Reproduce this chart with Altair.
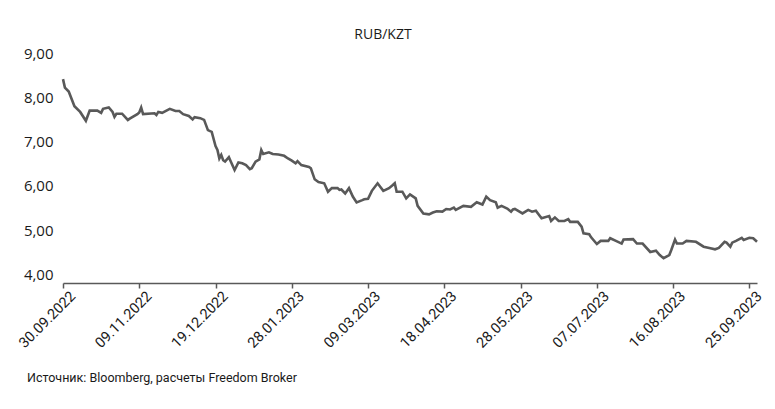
import altair as alt
import pandas as pd

start_date = "2022-09-30"

# days after 30.09.2022 and RUB/KZT values
day_offsets = [0, 1, 3, 6, 9, 12, 14, 18, 20, 21, 24, 26, 27, 28, 31, 34, 35, 39, 40, 41, 42,
               48, 49, 50, 52, 56, 59, 61, 63, 66, 68, 69, 72, 74, 76, 78, 80, 81, 82, 83, 84,
               85, 87, 88, 90, 92, 94, 96, 98, 99, 101, 103, 104, 105, 108, 110, 113, 116, 118,
               120, 122, 123, 125, 129, 130, 132, 134, 137, 139, 141, 144, 145, 146, 148, 150,
               152, 154, 157, 158, 160, 162, 165, 168, 171, 173, 174, 175, 178, 180, 182, 185,
               186, 189, 192, 194, 196, 199, 201, 203, 205, 206, 210, 214, 217, 220, 222, 224,
               227, 228, 230, 233, 235, 236, 237, 241, 244, 246, 248, 251, 255, 256, 258, 260,
               263, 265, 266, 270, 272, 273, 276, 277, 280, 282, 286, 287, 290, 293, 294, 299,
               301, 304, 308, 311, 313, 315, 318, 319, 321, 322, 325, 327, 332, 336, 339, 342,
               344, 347, 348, 350, 351, 353, 356, 357, 360, 362, 364]
rub_kzt = [8.41, 8.22, 8.13, 7.80, 7.67, 7.47, 7.70, 7.70, 7.65, 7.74, 7.77, 7.67, 7.56, 7.63,
           7.63, 7.49, 7.52, 7.62, 7.66, 7.77, 7.62,
           7.64, 7.60, 7.67, 7.65, 7.74, 7.69, 7.69, 7.62, 7.58, 7.50, 7.55, 7.53, 7.49, 7.26,
           7.22, 6.90, 6.81, 6.62, 6.70, 6.58,
           6.55, 6.65, 6.55, 6.36, 6.53, 6.51, 6.47, 6.38, 6.40, 6.55, 6.60, 6.81, 6.72, 6.76,
           6.72, 6.71, 6.68, 6.62,
           6.57, 6.51, 6.56, 6.47, 6.43, 6.40, 6.15, 6.09, 6.06, 5.87, 5.95, 5.95, 5.91, 5.92,
           5.83, 5.95,
           5.76, 5.63, 5.68, 5.70, 5.71, 5.89, 6.06, 5.89, 5.95, 6.02, 6.06, 5.87, 5.87, 5.72,
           5.81, 5.72,
           5.55, 5.38, 5.36, 5.40, 5.43, 5.42, 5.48, 5.47, 5.51, 5.46, 5.55, 5.53, 5.63, 5.58,
           5.76, 5.68,
           5.63, 5.51, 5.55, 5.49, 5.42, 5.47, 5.48, 5.38, 5.46, 5.42, 5.44, 5.27, 5.32, 5.21,
           5.29, 5.21,
           5.21, 5.25, 5.19, 5.19, 5.08, 4.93, 4.91, 4.84, 4.69, 4.76, 4.76, 4.82, 4.76, 4.70,
           4.79, 4.80,
           4.70, 4.70, 4.51, 4.54, 4.44, 4.37, 4.44, 4.55, 4.79, 4.70, 4.70, 4.76, 4.74, 4.63,
           4.60, 4.57,
           4.60, 4.74, 4.72, 4.63, 4.72, 4.76, 4.83, 4.78, 4.83, 4.82, 4.74]

x_tick_labels = ["30.09.2022", "09.11.2022", "19.12.2022", "28.01.2023", "09.03.2023",
                 "18.04.2023", "28.05.2023", "07.07.2023", "16.08.2023", "25.09.2023"]
y_tick_values = [4, 5, 6, 7, 8, 9]
title_text = "RUB/KZT"
source_text = "Источник: Bloomberg, расчеты Freedom Broker"

dates = (pd.Timestamp(start_date) + pd.to_timedelta(day_offsets, unit="D")).strftime("%Y-%m-%d")
df = pd.DataFrame({"date": list(dates), "value": rub_kzt})


def to_dt(s):
    d, m, y = s.split(".")
    return alt.DateTime(year=int(y), month=int(m), date=int(d), utc=True)


x_ticks = [to_dt(s) for s in x_tick_labels]

line = alt.Chart(df).mark_line(color="#595959", strokeWidth=2.6, clip=False).encode(
    x=alt.X(
        "date:T",
        title=None,
        scale=alt.Scale(type="utc", domain=[to_dt("30.09.2022"), to_dt("29.09.2023")]),
        axis=alt.Axis(
            values=x_ticks,
            labelExpr="utcFormat(datum.value, '%d.%m.%Y')",
            labelAngle=-45,
            labelAlign="right",
            labelBaseline="top",
            labelFont="Roboto",
            labelFontSize=14.5,
            labelColor="#1a1a1a",
            labelPadding=1,
            labelOffset=5,
            labelOverlap=False,
            labelFlush=False,
            domainColor="#595959",
            domainWidth=1.5,
            tickColor="#595959",
            tickWidth=1.5,
            tickSize=5,
            grid=False,
        ),
    ),
    y=alt.Y(
        "value:Q",
        title=None,
        scale=alt.Scale(domain=[3.81, 9.0], nice=False, zero=False),
        axis=alt.Axis(
            values=y_tick_values,
            labelExpr="replace(format(datum.value, '.2f'), '.', ',')",
            labelFont="Open Sans",
            labelFontSize=15,
            labelColor="#1a1a1a",
            labelPadding=10,
            domain=False,
            ticks=False,
            grid=False,
        ),
    ),
)

title_df = pd.DataFrame({"t": [title_text]})
title = alt.Chart(title_df).mark_text(
    font="Open Sans", fontSize=14, color="#1a1a1a", align="center", baseline="middle"
).encode(text="t:N", x=alt.value(320), y=alt.value(-18))

src_df = pd.DataFrame({"t": [source_text]})
source = alt.Chart(src_df).mark_text(
    font="Roboto", fontSize=12.5, color="#1a1a1a",
    align="left", baseline="middle"
).encode(text="t:N", x=alt.value(-36), y=alt.value(325))

chart = alt.layer(line, title, source).properties(
    width=694,
    height=230,
    autosize=alt.AutoSizeParams(type="none"),
    padding={"left": 55, "top": 45, "right": 10, "bottom": 110},
).configure_view(stroke=None)

chart.save("out.html", embed_options={"renderer": "svg", "actions": False})
